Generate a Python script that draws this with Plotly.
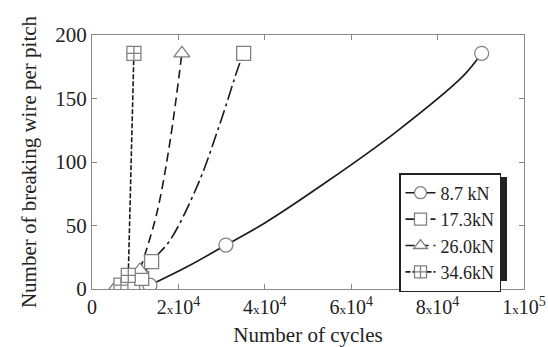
import plotly.graph_objects as go

x_87 = [13400, 31000, 90200]
y_87 = [3.0, 34.6, 185.6]
x_173 = [9400, 11500, 13800, 35100]
y_173 = [1.0, 8.4, 21.5, 185.6]
x_260 = [5300, 11100, 20800]
y_260 = [0.5, 15.0, 185.6]
x_346 = [6700, 8400, 9700]
y_346 = [3.0, 10.8, 185.6]

# Fitted curves as drawn in the picture
cx_87 = [13400, 22000, 31000, 40000, 55000, 70500, 86000, 90200]
cy_87 = [3.0, 17.5, 34.6, 52.0, 86.0, 124.0, 168.0, 185.6]
cx_173 = [11500, 13800, 18100, 24600, 29600, 33900, 35100]
cy_173 = [8.4, 21.5, 38.6, 83.0, 130.0, 175.0, 185.6]
cx_260 = [11100, 15000, 18100, 20800]
cy_260 = [15.0, 59.6, 117.0, 185.6]
cx_346 = [8400, 9700]
cy_346 = [10.8, 185.6]

names = ["8.7 kN", "17.3kN", "26.0kN", "34.6kN"]
xticks = [0, 20000, 40000, 60000, 80000, 100000]
sx = "<span style='font-size:13px'>x</span>"
xticktext = ["0", "2" + sx + "10<sup>4</sup>", "4" + sx + "10<sup>4</sup>",
             "6" + sx + "10<sup>4</sup>", "8" + sx + "10<sup>4</sup>",
             "1" + sx + "10<sup>5</sup>"]
yticks = [0, 50, 100, 150, 200]

FONT = "Liberation Serif"
mcol = "#808080"
lcol = "#1a1a1a"

series = [
    (cx_87, cy_87, x_87, y_87, names[0], "circle", "solid"),
    (cx_173, cy_173, x_173, y_173, names[1], "square", "14px,4px,3px,4px"),
    (cx_260, cy_260, x_260, y_260, names[2], "triangle-up", "9px,5px"),
    (cx_346, cy_346, x_346, y_346, names[3], "square-cross", "5px,2px"),
]

fig = go.Figure()
for cx, cy, mx, my, nm, sym, dash in series:
    fig.add_trace(go.Scatter(
        x=cx, y=cy, mode="lines", showlegend=False, hoverinfo="skip",
        line=dict(color=lcol, width=1.6, dash=dash, shape="spline", smoothing=1.0)))
for cx, cy, mx, my, nm, sym, dash in series:
    fig.add_trace(go.Scatter(
        x=mx, y=my, mode="markers", showlegend=False, name=nm,
        marker=dict(symbol=sym, size=14, color="white", line=dict(color=mcol, width=1.3))))
for cx, cy, mx, my, nm, sym, dash in series:
    fig.add_trace(go.Scatter(
        x=[None], y=[None], mode="lines+markers", name=nm,
        line=dict(color=lcol, width=1.6, dash=dash),
        marker=dict(symbol=sym, size=12, color="white", line=dict(color=mcol, width=1.3))))

fig.update_layout(
    width=548, height=347,
    margin=dict(l=92, r=24, t=35, b=58),
    paper_bgcolor="white", plot_bgcolor="white",
    font=dict(family=FONT, size=20, color="#222222"),
    showlegend=True,
    legend=dict(x=(399 - 92) / 432, y=(289 - 173) / 254, xanchor="left", yanchor="top",
                bgcolor="white", bordercolor="#222222", borderwidth=1.5,
                font=dict(family=FONT, size=18, color="#222222"), tracegroupgap=0),
    xaxis=dict(range=[0, 100000], tickvals=xticks, ticktext=xticktext,
               showgrid=False, zeroline=False, showline=True, linecolor="#888888",
               linewidth=1, mirror="ticks", ticks="inside", ticklen=5,
               tickcolor="#888888", tickfont=dict(size=20), automargin=False,
               title=dict(text="Number of cycles", font=dict(size=21), standoff=14)),
    yaxis=dict(range=[0, 200], tickvals=yticks,
               showgrid=False, zeroline=False, showline=True, linecolor="#888888",
               linewidth=1, mirror="ticks", ticks="inside", ticklen=5,
               tickcolor="#888888", tickfont=dict(size=21), automargin=False,
               title=dict(text="Number of breaking wire per pitch", font=dict(size=21), standoff=12)),
)

fig.add_shape(type="rect", xref="paper", yref="paper", layer="below",
              x0=(403 - 92) / 432, x1=(507 - 92) / 432,
              y0=(289 - 281) / 254, y1=(289 - 177) / 254,
              fillcolor="#222222", line=dict(width=0))

fig.write_html("out.html")
